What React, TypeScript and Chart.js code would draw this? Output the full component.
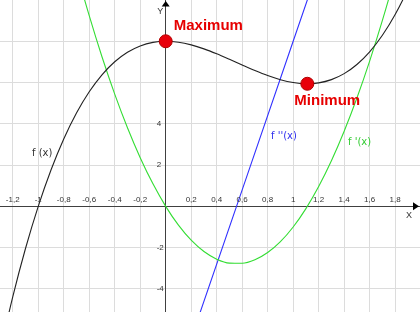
import { useEffect, useRef } from "react";
import { Chart, registerables } from "chart.js";

Chart.register(...registerables);

// f(x) sampled values
const F_X = [-1.3, -1.2, -1.1, -1.0, -0.9, -0.8, -0.7, -0.6, -0.5, -0.4, -0.3, -0.2, -0.1, 0, 0.1, 0.2, 0.3, 0.4, 0.5, 0.6, 0.7, 0.8, 0.9, 1.0, 1.1, 1.2, 1.3, 1.4, 1.5, 1.6, 1.7, 1.8, 1.9, 2.0];
const F_Y = [-7.041, -4.384, -2.043, 0, 1.763, 3.264, 4.521, 5.552, 6.375, 7.008, 7.469, 7.776, 7.947, 8, 7.953, 7.824, 7.631, 7.392, 7.125, 6.848, 6.579, 6.336, 6.137, 6, 5.943, 5.984, 6.141, 6.432, 6.875, 7.488, 8.289, 9.296, 10.527, 12];

// f'(x) sampled values
const D1_X = [-0.8, -0.7, -0.6, -0.5, -0.4, -0.3, -0.2, -0.1, 0, 0.1, 0.2, 0.3, 0.4, 0.5, 0.6, 0.7, 0.8, 0.9, 1.0, 1.1, 1.2, 1.3, 1.4, 1.5, 1.6, 1.7, 1.8, 1.9];
const D1_Y = [13.76, 11.41, 9.24, 7.25, 5.44, 3.81, 2.36, 1.09, 0, -0.91, -1.64, -2.19, -2.56, -2.75, -2.76, -2.59, -2.24, -1.71, -1, -0.11, 0.96, 2.21, 3.64, 5.25, 7.04, 9.01, 11.16, 13.49];

// f''(x) values (straight line)
const D2_X = [0.2, 0.6, 1.0, 1.2];
const D2_Y = [-6.4, 0.8, 8, 11.6];

// extrema
const EXT_X = [0, 1.111];
const EXT_Y = [8, 5.94];
const EXT_LABELS = ["Maximum", "Minimum"];

// grid & ticks
const X_GRID = [-1.2, -1.0, -0.8, -0.6, -0.4, -0.2, 0, 0.2, 0.4, 0.6, 0.8, 1.0, 1.2, 1.4, 1.6, 1.8];
const X_TICK_VALUES = [-1.2, -1.0, -0.8, -0.6, -0.4, -0.2, 0.2, 0.4, 0.6, 0.8, 1.0, 1.2, 1.4, 1.6, 1.8];
const X_TICK_LABELS = ["-1,2", "-1", "-0,8", "-0,6", "-0,4", "-0,2", "0,2", "0,4", "0,6", "0,8", "1", "1,2", "1,4", "1,6", "1,8"];
const Y_GRID = [-4, -2, 0, 2, 4, 6, 8];
const Y_TICK_VALUES = [4, 2, -2, -4];
const Y_TICK_LABELS = ["4", "2", "-2", "-4"];

const CURVE_LABELS = ["f (x)", "f ''(x)", "f '(x)"];
const AXIS_LABELS = ["X", "Y"];

const pts = (xs: number[], ys: number[]) => xs.map((x, i) => ({ x, y: ys[i] }));

export default function App() {
  const ref = useRef<HTMLCanvasElement>(null);

  useEffect(() => {
    const canvas = ref.current!;
    const overlay = {
      id: "overlay",
      afterDatasetsDraw(chart: any) {
        const { ctx, chartArea } = chart;
        const xs = chart.scales.x;
        const ys = chart.scales.y;
        const ox = xs.getPixelForValue(0);
        const oy = ys.getPixelForValue(0);
        ctx.save();
        // tick labels
        ctx.fillStyle = "#333";
        ctx.font = '8px "Liberation Sans", Arial, sans-serif';
        ctx.textAlign = "center";
        ctx.textBaseline = "middle";
        X_TICK_VALUES.forEach((v, i) => {
          ctx.fillText(X_TICK_LABELS[i], xs.getPixelForValue(v), oy - 7);
        });
        ctx.textAlign = "left";
        Y_TICK_VALUES.forEach((v, i) => {
          ctx.fillText(Y_TICK_LABELS[i], ox - 9, ys.getPixelForValue(v));
        });
        // axis names
        ctx.font = '9px "Liberation Sans", Arial, sans-serif';
        ctx.textAlign = "center";
        ctx.fillText(AXIS_LABELS[0], chartArea.right - 11, oy + 9);
        ctx.fillText(AXIS_LABELS[1], ox - 5.5, chartArea.top + 12);
        // arrows
        ctx.fillStyle = "#000";
        ctx.beginPath();
        ctx.moveTo(ox, chartArea.top + 1);
        ctx.lineTo(ox - 4, chartArea.top + 6.5);
        ctx.lineTo(ox + 4, chartArea.top + 6.5);
        ctx.closePath();
        ctx.fill();
        ctx.beginPath();
        ctx.moveTo(chartArea.right - 1, oy);
        ctx.lineTo(chartArea.right - 7, oy - 4);
        ctx.lineTo(chartArea.right - 7, oy + 4);
        ctx.closePath();
        ctx.fill();
        // curve labels
        ctx.textAlign = "left";
        ctx.textBaseline = "alphabetic";
        ctx.font = '10px "DejaVu Sans", sans-serif';
        ctx.fillStyle = "#333";
        ctx.fillText(CURVE_LABELS[0], 32, 156);
        ctx.fillStyle = "#3030ee";
        ctx.fillText(CURVE_LABELS[1], 271, 139);
        ctx.fillStyle = "#33cc33";
        ctx.fillText(CURVE_LABELS[2], 348, 145);
        // extrema labels
        ctx.font = 'bold 15px "Liberation Sans", Arial, sans-serif';
        ctx.fillStyle = "#e60000";
        const p0x = xs.getPixelForValue(EXT_X[0]);
        const p0y = ys.getPixelForValue(EXT_Y[0]);
        ctx.fillText(EXT_LABELS[0], p0x + 8, p0y - 11);
        const p1x = xs.getPixelForValue(EXT_X[1]);
        const p1y = ys.getPixelForValue(EXT_Y[1]);
        ctx.fillText(EXT_LABELS[1], p1x - 13, p1y + 21);
        ctx.restore();
      },
    };

    const chart = new Chart(canvas, {
      type: "line",
      data: {
        datasets: [
          {
            data: pts(EXT_X, EXT_Y),
            showLine: false,
            pointRadius: 6.5,
            pointBackgroundColor: "#e8000b",
            pointBorderColor: "#b00000",
            pointBorderWidth: 1,
          },
          {
            data: pts(F_X, F_Y),
            borderColor: "#222",
            borderWidth: 1.1,
            pointRadius: 0,
            cubicInterpolationMode: "monotone",
          },
          {
            data: pts(D1_X, D1_Y),
            borderColor: "#33dd33",
            borderWidth: 1.1,
            pointRadius: 0,
            cubicInterpolationMode: "monotone",
          },
          {
            data: pts(D2_X, D2_Y),
            borderColor: "#3030ff",
            borderWidth: 1.1,
            pointRadius: 0,
          },
        ],
      },
      options: {
        animation: false,
        responsive: false,
        events: [],
        layout: { padding: 0, autoPadding: false },
        plugins: { legend: { display: false }, tooltip: { enabled: false } },
        scales: {
          x: {
            type: "linear",
            min: -1.3,
            max: 1.995,
            position: { y: 0 } as any,
            afterBuildTicks: (s: any) => {
              s.ticks = X_GRID.map((v) => ({ value: v }));
            },
            ticks: { display: false },
            grid: { color: "#dcdcdc", drawTicks: false, lineWidth: 1 },
            border: { display: true, color: "#404040", width: 1 },
          },
          y: {
            type: "linear",
            min: -5.12,
            max: 10,
            position: { x: 0 } as any,
            afterBuildTicks: (s: any) => {
              s.ticks = Y_GRID.map((v) => ({ value: v }));
            },
            ticks: { display: false },
            grid: { color: "#dcdcdc", drawTicks: false, lineWidth: 1 },
            border: { display: true, color: "#404040", width: 1 },
          },
        },
      },
      plugins: [overlay],
    });
    return () => chart.destroy();
  }, []);

  return (
    <div style={{ position: "absolute", left: 0, top: 0, width: 420, height: 312, background: "#fff" }}>
      <canvas ref={ref} width={420} height={312} style={{ display: "block" }} />
    </div>
  );
}
